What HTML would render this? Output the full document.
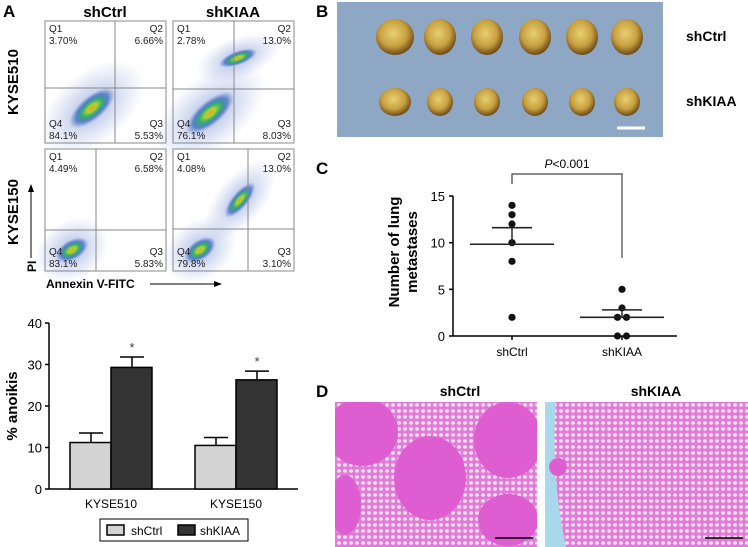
<!DOCTYPE html>
<html><head><meta charset="utf-8"><style>
body{margin:0;background:#fff}
svg{display:block;font-family:"Liberation Sans",Arial,sans-serif}
</style></head><body>
<svg id="fig" width="748" height="547" viewBox="0 0 748 547" xmlns="http://www.w3.org/2000/svg">
<defs>
<radialGradient id="dens" cx="50%" cy="50%" r="50%">
<stop offset="0" stop-color="#e8a020"/><stop offset="0.2" stop-color="#b8d030"/><stop offset="0.45" stop-color="#30b070"/><stop offset="0.7" stop-color="#3060c0" stop-opacity="0.7"/><stop offset="1" stop-color="#5070c0" stop-opacity="0"/>
</radialGradient>
<radialGradient id="sparse" cx="50%" cy="50%" r="50%">
<stop offset="0" stop-color="#4060c0" stop-opacity="0.45"/><stop offset="1" stop-color="#6080d0" stop-opacity="0"/>
</radialGradient>
<radialGradient id="lung" cx="45%" cy="40%" r="60%">
<stop offset="0" stop-color="#e8d070"/><stop offset="0.6" stop-color="#c8a040"/><stop offset="1" stop-color="#6a4a18"/>
</radialGradient>
<pattern id="alv" width="6" height="6" patternUnits="userSpaceOnUse">
<rect width="6" height="6" fill="#e47ad8"/><ellipse cx="3" cy="3" rx="2" ry="1.7" fill="#f2e4f2"/>
</pattern>
<clipPath id="clipL"><rect x="335" y="402" width="202" height="145"/></clipPath>
<clipPath id="clipR"><rect x="545" y="402" width="203" height="145"/></clipPath>
</defs>

<!-- Panel A -->
<text x="3" y="17" font-size="17" font-weight="bold">A</text>
<text x="105" y="17" font-size="15" font-weight="bold" text-anchor="middle">shCtrl</text>
<text x="233" y="17" font-size="15" font-weight="bold" text-anchor="middle">shKIAA</text>
<text transform="translate(18,82) rotate(-90)" font-size="15" font-weight="bold" text-anchor="middle">KYSE510</text>
<text transform="translate(18,212) rotate(-90)" font-size="15" font-weight="bold" text-anchor="middle">KYSE150</text>
<text transform="translate(36,272) rotate(-90)" font-size="12" font-weight="bold">PI</text>
<line x1="31" y1="258" x2="31" y2="190" stroke="#000"/>
<polygon points="31,184 28,192 34,192"/>
<text x="46" y="288" font-size="12" font-weight="bold">Annexin V-FITC</text>
<line x1="150" y1="284" x2="216" y2="284" stroke="#000"/>
<polygon points="222,284 214,281 214,287"/>
<g id="flow"></g>

<!-- bar chart -->
<g id="bars"></g>

<!-- Panel B -->
<text x="316" y="17" font-size="17" font-weight="bold">B</text>
<rect x="337" y="2" width="326" height="135" fill="#8ea7c4"/>
<g id="lungs"></g>
<text x="686" y="41" font-size="14" font-weight="bold">shCtrl</text>
<text x="686" y="106" font-size="14" font-weight="bold">shKIAA</text>
<line x1="617" y1="128" x2="645" y2="128" stroke="#fff" stroke-width="3"/>

<!-- Panel C -->
<text x="316" y="174" font-size="17" font-weight="bold">C</text>
<g id="scatter"></g>

<!-- Panel D -->
<g clip-path="url(#clipL)">
<rect x="335" y="402" width="202" height="145" fill="url(#alv)"/>
<ellipse cx="362" cy="432" rx="36" ry="34" fill="#de5ed2"/>
<ellipse cx="430" cy="478" rx="36" ry="42" fill="#de5ed2"/>
<ellipse cx="508" cy="440" rx="34" ry="38" fill="#de5ed2"/>
<ellipse cx="508" cy="520" rx="30" ry="26" fill="#de5ed2"/>
<ellipse cx="345" cy="505" rx="16" ry="30" fill="#de5ed2"/>
<line x1="495" y1="538" x2="533" y2="538" stroke="#000" stroke-width="1.5"/>
</g>
<g clip-path="url(#clipR)">
<rect x="545" y="402" width="203" height="145" fill="url(#alv)"/>
<path d="M545,402 L556,402 Q550,470 566,547 L545,547 Z" fill="#a8d8ea"/>
<circle cx="558" cy="467" r="9" fill="#de5ed2"/>
<line x1="705" y1="538" x2="743" y2="538" stroke="#000" stroke-width="1.5"/>
</g>
<text x="316" y="397" font-size="17" font-weight="bold">D</text>
<text x="460" y="396" font-size="14" font-weight="bold" text-anchor="middle">shCtrl</text>
<text x="656" y="396" font-size="14" font-weight="bold" text-anchor="middle">shKIAA</text>
</svg>
<script>
const NS="http://www.w3.org/2000/svg";
function mk(p,t,a,txt){const e=document.createElementNS(NS,t);for(const k in a)e.setAttribute(k,a[k]);if(txt!==undefined)e.textContent=txt;p.appendChild(e);return e;}

// ---- flow plots ----
const flowConds=["KYSE510 shCtrl","KYSE510 shKIAA","KYSE150 shCtrl","KYSE150 shKIAA"];
const q1Vals=["3.70%","2.78%","4.49%","4.08%"];
const q2Vals=["6.66%","13.0%","6.58%","13.0%"];
const q3Vals=["5.53%","8.03%","5.83%","3.10%"];
const q4Vals=["84.1%","76.1%","83.1%","79.8%"];
const flow=document.getElementById('flow');
const boxes=[[45,21],[173,21],[45,149],[173,149]];
const gates=[[115,88],[234,89],[96,230],[248,229]];
const blobs=[[[92,108,28,12,-40]],[[210,113,30,12,-40],[238,58,20,7,-20]],[[72,250,18,10,-30]],[[200,250,18,10,-35],[240,200,22,8,-50]]];
flowConds.forEach((c,i)=>{
  const [x,y]=boxes[i];const w=121,h=122;
  const g=mk(flow,'g',{});
  
  
  mk(g,'rect',{x:x,y:y,width:w,height:h,fill:'#fff',stroke:'#888'});
  blobs[i].forEach(b=>{
    mk(g,'ellipse',{cx:b[0],cy:b[1],rx:b[2]*2.2,ry:b[3]*3,fill:'url(#sparse)',transform:`rotate(${b[4]} ${b[0]} ${b[1]})`});
    mk(g,'ellipse',{cx:b[0],cy:b[1],rx:b[2],ry:b[3],fill:'url(#dens)',transform:`rotate(${b[4]} ${b[0]} ${b[1]})`});
  });
  const [gx,gy]=gates[i];
  mk(g,'line',{x1:gx,y1:y,x2:gx,y2:y+h,stroke:'#888'});
  mk(g,'line',{x1:x,y1:gy,x2:x+w,y2:gy,stroke:'#888'});
  const fs={'font-size':10,fill:'#222'};
  mk(g,'text',Object.assign({x:x+4,y:y+11},fs),'Q1');
  mk(g,'text',Object.assign({x:x+4,y:y+23},fs),q1Vals[i]);
  mk(g,'text',Object.assign({x:x+w-3,y:y+11,'text-anchor':'end'},fs),'Q2');
  mk(g,'text',Object.assign({x:x+w-3,y:y+23,'text-anchor':'end'},fs),q2Vals[i]);
  mk(g,'text',Object.assign({x:x+4,y:y+h-16},fs),'Q4');
  mk(g,'text',Object.assign({x:x+4,y:y+h-4},fs),q4Vals[i]);
  mk(g,'text',Object.assign({x:x+w-3,y:y+h-16,'text-anchor':'end'},fs),'Q3');
  mk(g,'text',Object.assign({x:x+w-3,y:y+h-4,'text-anchor':'end'},fs),q3Vals[i]);
});

// ---- bar chart ----
const barCats=["KYSE510","KYSE150"];
const ctrlVals=[11.2,10.5];
const kiaaVals=[29.3,26.3];
const ctrlErr=[2.3,1.9];
const kiaaErr=[2.5,2.1];
const barTicks=[0,10,20,30,40];
const bg=document.getElementById('bars');
const by=v=>489-v*(166/40);
const catX=[111,236];
mk(bg,'line',{x1:49,y1:by(40),x2:49,y2:489,stroke:'#000','stroke-width':1.5});
mk(bg,'line',{x1:49,y1:489,x2:298,y2:489,stroke:'#000','stroke-width':1.5});
barTicks.forEach(t=>{
  const tl=mk(bg,'line',{x1:45,y1:by(t),x2:49,y2:by(t),stroke:'#000','stroke-width':1.5});
  
  const tx=mk(bg,'text',{x:42,y:by(t)+5,'font-size':13,'text-anchor':'end'},t);
  
});
const yt=mk(bg,'text',{transform:'translate(17,406) rotate(-90)','font-size':15,'font-weight':'bold','text-anchor':'middle'},'% anoikis');

barCats.forEach((c,i)=>{
  const cx=catX[i];
  [[ctrlVals[i],ctrlErr[i],'#d3d3d3',cx-41,'shctrl',false],[kiaaVals[i],kiaaErr[i],'#333',cx,'shkiaa',true]].forEach(s=>{
    const [v,e,col,x0,nm,star]=s;
    const mid=x0+21;
    mk(bg,'line',{x1:mid,y1:by(v),x2:mid,y2:by(v+e),stroke:'#000','stroke-width':1.5});
    mk(bg,'line',{x1:mid-12,y1:by(v+e),x2:mid+12,y2:by(v+e),stroke:'#000','stroke-width':1.5});
    const r=mk(bg,'rect',{x:x0,y:by(v),width:41,height:by(0)-by(v),fill:col,stroke:'#000','stroke-width':1.5});
    
    
    if(star){const st=mk(bg,'text',{x:mid,y:by(v+e)-5,'font-size':13,'text-anchor':'middle',fill:'#444'},'*');
      }
  });
  const cl=mk(bg,'text',{x:cx,y:508,'font-size':12,'text-anchor':'middle'},c);
  
});
const lg=mk(bg,'g',{});


mk(lg,'rect',{x:100,y:519,width:148,height:22,fill:'#fff',stroke:'#000'});
mk(lg,'rect',{x:107,y:525,width:17,height:10,fill:'#d3d3d3',stroke:'#000','stroke-width':1.5});
mk(lg,'text',{x:131,y:535,'font-size':12},'shCtrl');
mk(lg,'rect',{x:178,y:525,width:17,height:10,fill:'#333',stroke:'#000','stroke-width':1.5});
mk(lg,'text',{x:200,y:535,'font-size':12},'shKIAA');

// ---- lungs photo ----
const lungs=document.getElementById('lungs');
const lungX=[395,440,487,535,582,627];
[[37,16,14],[102,13,12]].forEach((row,ri)=>{
  lungX.forEach((lx,j)=>{
    const e=mk(lungs,'ellipse',{cx:lx,cy:row[0],rx:row[1]+(j===0?3:0),ry:row[2]+(ri===0?4:2),fill:'url(#lung)'});
    
    
  });
});

// ---- scatter ----
const scatCats=["shCtrl","shKIAA"];
const ctrlPts=[14,13,12,10,8,2];
const kiaaPts=[5,3,2,2,0,0];
const ctrlMean=9.83, ctrlSem=11.6;
const kiaaMean=2.0, kiaaSem=2.8;
const scatTicks=[0,5,10,15];
const sg=document.getElementById('scatter');
const sy=v=>336-v*(140/15);
const sx=[512,622];
mk(sg,'line',{x1:453,y1:sy(15),x2:453,y2:336,stroke:'#000','stroke-width':1.5});
mk(sg,'line',{x1:453,y1:336,x2:677,y2:336,stroke:'#000','stroke-width':1.5});
scatTicks.forEach(t=>{
  mk(sg,'line',{x1:449,y1:sy(t),x2:453,y2:sy(t),stroke:'#000','stroke-width':1.5});
  const tx=mk(sg,'text',{x:445,y:sy(t)+5,'font-size':13,'text-anchor':'end'},t);
  
});
scatCats.forEach((c,i)=>{
  mk(sg,'line',{x1:sx[i],y1:336,x2:sx[i],y2:340,stroke:'#000','stroke-width':1.5});
  const tl=mk(sg,'text',{x:sx[i],y:356,'font-size':12,'text-anchor':'middle'},c);
  
});
const st1=mk(sg,'text',{transform:'translate(399,252) rotate(-90)','font-size':15,'font-weight':'bold','text-anchor':'middle'},'Number of lung');

const st2=mk(sg,'text',{transform:'translate(417,252) rotate(-90)','font-size':15,'font-weight':'bold','text-anchor':'middle'},'metastases');

function plotPts(pts,cx,nm){
  const seen={};
  pts.forEach(v=>{seen[v]=(seen[v]||0)+1;});
  const idx={};
  pts.forEach(v=>{
    const n=seen[v];idx[v]=(idx[v]||0);
    const off=n>1?(idx[v]-(n-1)/2)*9:0;idx[v]++;
    const p=mk(sg,'circle',{cx:cx+off,cy:sy(v),r:3.6,fill:'#111'});
    
    
  });
}
plotPts(ctrlPts,sx[0],'shctrl');plotPts(kiaaPts,sx[1],'shkiaa');
[[ctrlMean,ctrlSem,sx[0]],[kiaaMean,kiaaSem,sx[1]]].forEach((m,i)=>{
  const a=mk(sg,'line',{x1:m[2]-42,y1:sy(m[0]),x2:m[2]+42,y2:sy(m[0]),stroke:'#222','stroke-width':1.6});
  
  const b=mk(sg,'line',{x1:m[2]-20,y1:sy(m[1]),x2:m[2]+20,y2:sy(m[1]),stroke:'#222','stroke-width':1.6});
  
  mk(sg,'line',{x1:m[2],y1:sy(m[0]),x2:m[2],y2:sy(m[1]),stroke:'#222','stroke-width':1.4});
});
const br=mk(sg,'path',{d:`M${sx[0]},184 V174 H${sx[1]} V258`,fill:'none',stroke:'#444','stroke-width':1.2});

const pt=mk(sg,'text',{x:567,y:168,'font-size':12,'text-anchor':'middle'});

const pi=mk(pt,'tspan',{'font-style':'italic'},'P');
mk(pt,'tspan',{},'<0.001');
</script>
</body></html>
